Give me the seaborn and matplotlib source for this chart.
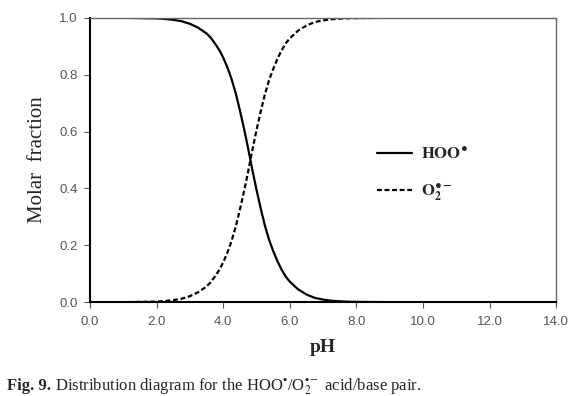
import numpy as np
import pandas as pd
import matplotlib
matplotlib.use("Agg")
import matplotlib.pyplot as plt
import seaborn as sns

# pH grid and HOO* fraction (crossing near pH 4.8)
ph = [0.0, 0.5, 1.0, 1.5, 2.0, 2.25, 2.5, 2.75, 3.0, 3.25, 3.5, 3.625, 3.75,
      3.875, 4.0, 4.125, 4.25, 4.375, 4.5, 4.625, 4.75, 4.875, 5.0, 5.125,
      5.25, 5.375, 5.5, 5.625, 5.75, 5.875, 6.0, 6.25, 6.5, 6.75, 7.0,
      7.25, 7.5, 7.75, 8.0, 9.0, 10.0, 11.0, 12.0, 13.0, 14.0]
hoo = [1.0, 1.0, 1.0, 0.999, 0.998, 0.996, 0.993, 0.988, 0.979, 0.965, 0.945,
       0.93, 0.91, 0.888, 0.86, 0.826, 0.785, 0.735, 0.675, 0.61, 0.54,
       0.465, 0.395, 0.33, 0.27, 0.22, 0.18, 0.145, 0.115, 0.09, 0.072,
       0.045, 0.027, 0.015, 0.009, 0.005, 0.003, 0.0015, 0.001, 0.0, 0.0,
       0.0, 0.0, 0.0, 0.0]
o2 = [1 - v for v in hoo]

xticks = [0, 2, 4, 6, 8, 10, 12, 14]
yticks = [0.0, 0.2, 0.4, 0.6, 0.8, 1.0]

sns.set_style("white")
plt.rcParams['font.family'] = ['Liberation Sans', 'DejaVu Sans']
plt.rcParams['mathtext.fontset'] = 'stix'

fig = plt.figure(figsize=(5.77, 3.96), dpi=100)
ax = fig.add_axes([0.156, 0.237, 0.808, 0.718])

df = pd.DataFrame({'pH': ph, 'HOO': hoo, 'O2': o2})
sns.lineplot(data=df, x='pH', y='HOO', ax=ax, color='black', lw=1.6,
             label=r'$\mathbf{HOO^{\bullet}}$')
sns.lineplot(data=df, x='pH', y='O2', ax=ax, color='black', lw=1.6,
             linestyle=(0, (2.2, 1.2)), label=r'$\mathbf{O_2^{\bullet -}}$')

ax.set_xlim(0, 14)
ax.set_ylim(0, 1.0)
ax.set_xticks(xticks)
ax.set_xticklabels(['%.1f' % t for t in xticks])
ax.set_yticks(yticks)
ax.set_yticklabels(['%.1f' % t for t in yticks])
ax.tick_params(axis='both', labelsize=9.5, labelcolor='#555555', color='#555555',
               direction='out', length=4, width=0.8, left=True, bottom=True)
ax.tick_params(axis='x', pad=6)
ax.tick_params(axis='y', pad=5)

for s in ['left', 'bottom']:
    ax.spines[s].set_color('black')
    ax.spines[s].set_linewidth(1.5)
for s in ['top', 'right']:
    ax.spines[s].set_color('#666666')
    ax.spines[s].set_linewidth(1.0)

ax.set_ylabel('Molar  fraction', family='Liberation Serif', fontsize=15,
              labelpad=9)
ax.set_xlabel('pH', family='Liberation Serif', fontsize=14,
              fontweight='bold', labelpad=8)

ax.legend(loc='center left', bbox_to_anchor=(0.616, 0.45), frameon=False,
          fontsize=12, handlelength=2.1, handletextpad=0.5, labelspacing=1.15,
          borderaxespad=0, borderpad=0)

cap1 = fig.text(0.012, 0.015, 'Fig. 9.', family='Liberation Serif',
                fontsize=12, fontweight='bold', ha='left', va='baseline')
fig.canvas.draw()
bb = cap1.get_window_extent(renderer=fig.canvas.get_renderer())
x2 = (bb.x1 + 4) / fig.bbox.width
fig.text(x2, 0.015,
         r'Distribution diagram for the HOO$^{\bullet}$/O$_2^{\bullet-}$ acid/base pair.',
         family='Liberation Serif', fontsize=12, ha='left', va='baseline')

fig.savefig('out.png', dpi=100)
